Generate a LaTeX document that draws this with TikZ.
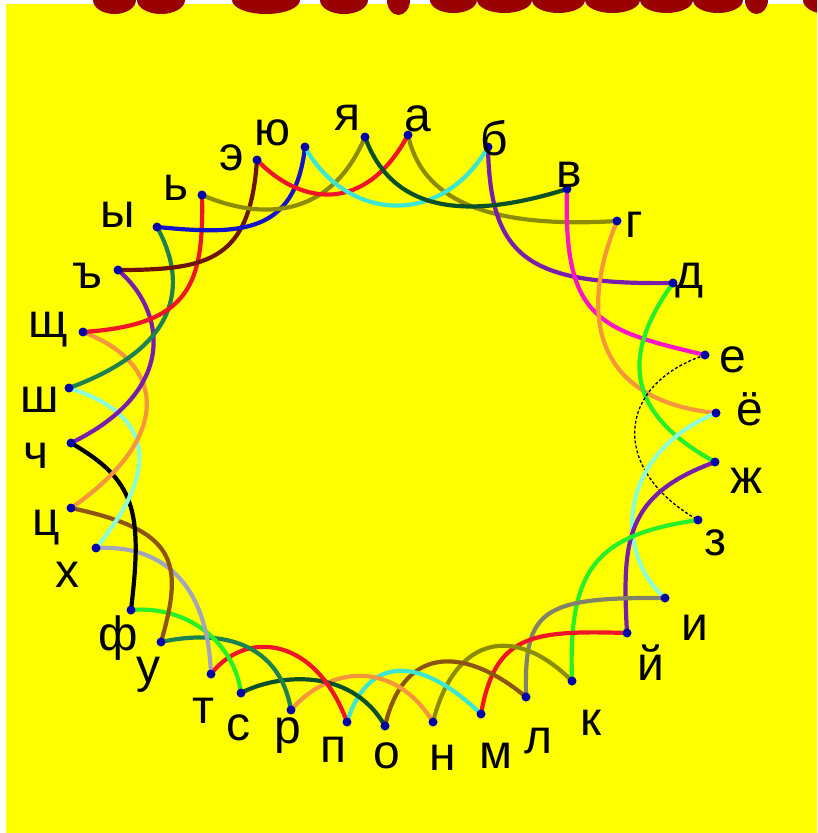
\documentclass[tikz,border=0pt]{standalone}
\usepackage{fontspec}
\setmainfont{Liberation Sans}
\definecolor{bgyellow}{RGB}{255,255,0}
\definecolor{titlered}{RGB}{153,0,0}
\definecolor{dotblue}{RGB}{0,0,170}
\definecolor{lolive}{RGB}{140,140,0}
\definecolor{lpurple}{RGB}{120,30,170}
\definecolor{lmagenta}{RGB}{255,20,200}
\definecolor{lorange}{RGB}{245,150,60}
\definecolor{lgreen}{RGB}{40,240,40}
\definecolor{laqua}{RGB}{140,255,215}
\definecolor{lgraybrown}{RGB}{130,130,105}
\definecolor{lgraylav}{RGB}{165,165,185}
\definecolor{lred}{RGB}{240,20,40}
\definecolor{lbrown}{RGB}{140,85,20}
\definecolor{lturq}{RGB}{60,230,210}
\definecolor{ldkgreen}{RGB}{10,80,40}
\definecolor{lseagreen}{RGB}{30,130,80}
\definecolor{lmaroon}{RGB}{110,20,10}
\definecolor{lblue}{RGB}{20,20,200}
\tikzset{
  arcline/.style={line width=4.2pt, line cap=round},
  thinline/.style={line width=1.3pt, densely dashed},
  letter/.style={inner sep=0pt, anchor=base, font=\fontsize{48}{48}\selectfont},
  spot/.style={fill=dotblue}
}
\begin{document}
\begin{tikzpicture}[x=1pt, y=-1pt]
    \clip (0,0) rectangle (817,833);
    \fill[white] (0,0) rectangle (817,833);
    \fill[bgyellow] (6,4) rectangle (817,833);
    % cut-off title
    \fill[titlered] (114.5,0) ellipse (21.5 and 14);
    \fill[titlered] (161,0) ellipse (24 and 14);
    \fill[titlered] (266,0) ellipse (34 and 14);
    \fill[titlered] (344,0) ellipse (24 and 14);
    \fill[titlered] (398.5,0) ellipse (11.5 and 15);
    \fill[titlered] (453.5,0) ellipse (23.5 and 13);
    \fill[titlered] (504.5,0) ellipse (27.5 and 13);
    \fill[titlered] (558.5,0) ellipse (26.5 and 13);
    \fill[titlered] (612.5,0) ellipse (27.5 and 13);
    \fill[titlered] (666.5,0) ellipse (26.5 and 13);
    \fill[titlered] (718,0) ellipse (25 and 13);
    \fill[titlered] (756.5,0) ellipse (11.5 and 14);
    \fill[titlered] (827,0) ellipse (24 and 14);
    % letter points
    \coordinate (a) at (408,135);
    \coordinate (b) at (488,147);
    \coordinate (v) at (567,189);
    \coordinate (g) at (617,221);
    \coordinate (d) at (673,283);
    \coordinate (e) at (705,355);
    \coordinate (yo) at (716,413);
    \coordinate (zh) at (715,462);
    \coordinate (z) at (698,520);
    \coordinate (i) at (665,598);
    \coordinate (ik) at (627,633);
    \coordinate (k) at (572,681);
    \coordinate (l) at (526,697);
    \coordinate (m) at (481,714);
    \coordinate (n) at (433,722);
    \coordinate (o) at (385,726);
    \coordinate (p) at (347,722);
    \coordinate (r) at (291,710);
    \coordinate (s) at (241,693);
    \coordinate (t) at (211,674);
    \coordinate (u) at (161,642);
    \coordinate (f) at (131,610);
    \coordinate (h) at (96,548);
    \coordinate (c) at (71,508);
    \coordinate (ch) at (71,443);
    \coordinate (sh) at (69,388);
    \coordinate (shch) at (83,332);
    \coordinate (hard) at (118,270);
    \coordinate (yery) at (157,227);
    \coordinate (soft) at (202,195);
    \coordinate (ee) at (257,160);
    \coordinate (yu) at (305,147);
    \coordinate (ya) at (365,137);
    % links
    \draw[arcline, lolive] (a) .. controls +(12,55) and +(-147,9) .. (g);
    \draw[arcline, lpurple] (b) .. controls +(2,113) and +(-143,2) .. (d);
    \draw[arcline, lmagenta] (v) .. controls +(-4,132) and +(-105,-25) .. (e);
    \draw[arcline, lorange] (g) .. controls +(-37,89) and +(-126,-13) .. (yo);
    \draw[arcline, lgreen] (d) .. controls +(-48,67) and +(-95,-52) .. (zh);
    \draw[thinline, black] (e) .. controls +(-90,30) and +(-88,-50) .. (z);
    \draw[arcline, laqua] (yo) .. controls +(-101,42) and +(-50,-43) .. (i);
    \draw[arcline, lpurple] (zh) .. controls +(-90,33) and +(-5,-93) .. (ik);
    \draw[arcline, lgreen] (z) .. controls +(-103,15) and +(-4,-112) .. (k);
    \draw[arcline, lgraybrown] (i) .. controls +(-125,-1) and +(-2,-87) .. (l);
    \draw[arcline, lred] (ik) .. controls +(-97,-3) and +(14,-79) .. (m);
    \draw[arcline, lolive] (k) .. controls +(-57,-57) and +(22,-87) .. (n);
    \draw[arcline, lbrown] (l) .. controls +(-56,-47) and +(20,-86) .. (o);
    \draw[arcline, lturq] (m) .. controls +(-56,-54) and +(23,-72) .. (p);
    \draw[arcline, lorange] (n) .. controls +(-38,-62) and +(39,-45) .. (r);
    \draw[arcline, ldkgreen] (o) .. controls +(-35,-61) and +(34,-18) .. (s);
    \draw[arcline, lred] (p) .. controls +(-32,-87) and +(34,-44) .. (t);
    \draw[arcline, lseagreen] (r) .. controls +(-11,-65) and +(64,-14) .. (u);
    \draw[arcline, lgreen] (s) .. controls +(-6,-48) and +(59,-5) .. (f);
    \draw[arcline, lgraylav] (t) .. controls +(-4,-104) and +(54,-3) .. (h);
    \draw[arcline, lbrown] (u) .. controls +(24,-82) and +(104,22) .. (c);
    \draw[arcline, black] (f) .. controls +(12,-100) and +(64,37) .. (ch);
    \draw[arcline, laqua] (h) .. controls +(64,-78) and +(86,27) .. (sh);
    \draw[arcline, lorange] (c) .. controls +(99,-68) and +(87,33) .. (shch);
    \draw[arcline, lpurple] (ch) .. controls +(109,-53) and +(47,40) .. (hard);
    \draw[arcline, lseagreen] (sh) .. controls +(131,-48) and +(21,38) .. (yery);
    \draw[arcline, lred] (shch) .. controls +(107,-7) and +(2,90) .. (soft);
    \draw[arcline, lmaroon] (hard) .. controls +(92,0) and +(-7,100) .. (ee);
    \draw[arcline, lblue] (yery) .. controls +(83,8) and +(-10,88) .. (yu);
    \draw[arcline, lolive] (soft) .. controls +(58,25) and +(-35,83) .. (ya);
    \draw[arcline, lred] (ee) .. controls +(43,45) and +(-43,80) .. (a);
    \draw[arcline, lturq] (yu) .. controls +(40,73) and +(-48,83) .. (b);
    \draw[arcline, ldkgreen] (ya) .. controls +(27,75) and +(-102,32) .. (v);
    % dots
    \fill[spot] (a) circle (4.5); \fill[spot] (b) circle (4.5);
    \fill[spot] (v) circle (4.5); \fill[spot] (g) circle (4.5);
    \fill[spot] (d) circle (4.5); \fill[spot] (e) circle (4.5);
    \fill[spot] (yo) circle (4.5); \fill[spot] (zh) circle (4.5);
    \fill[spot] (z) circle (4.5); \fill[spot] (i) circle (4.5);
    \fill[spot] (ik) circle (4.5); \fill[spot] (k) circle (4.5);
    \fill[spot] (l) circle (4.5); \fill[spot] (m) circle (4.5);
    \fill[spot] (n) circle (4.5); \fill[spot] (o) circle (4.5);
    \fill[spot] (p) circle (4.5); \fill[spot] (r) circle (4.5);
    \fill[spot] (s) circle (4.5); \fill[spot] (t) circle (4.5);
    \fill[spot] (u) circle (4.5); \fill[spot] (f) circle (4.5);
    \fill[spot] (h) circle (4.5); \fill[spot] (c) circle (4.5);
    \fill[spot] (ch) circle (4.5); \fill[spot] (sh) circle (4.5);
    \fill[spot] (shch) circle (4.5); \fill[spot] (hard) circle (4.5);
    \fill[spot] (yery) circle (4.5); \fill[spot] (soft) circle (4.5);
    \fill[spot] (ee) circle (4.5); \fill[spot] (yu) circle (4.5);
    \fill[spot] (ya) circle (4.5);
    % letters
    \node[letter] (la) at (418,131) {а};
    \node[letter] (lb) at (494,155) {б};
    \node[letter] (lv) at (569,187) {в};
    \node[letter] (lg) at (634,237) {г};
    \node[letter] (ld) at (689,288) {д};
    \node[letter] (le) at (733,372) {е};
    \node[letter] (lyo) at (750,425) {ё};
    \node[letter] (lzh) at (747,493) {ж};
    \node[letter] (lz) at (715,555) {з};
    \node[letter] (li) at (695,640) {и};
    \node[letter] (lik) at (651,680) {й};
    \node[letter] (lk) at (591,735) {к};
    \node[letter] (ll) at (538,753) {л};
    \node[letter] (lm) at (496,768) {м};
    \node[letter] (ln) at (443,770) {н};
    \node[letter] (lo) at (387,768) {о};
    \node[letter] (lp) at (333,762) {п};
    \node[letter] (lr) at (288,743) {р};
    \node[letter] (ls) at (238,740) {с};
    \node[letter] (lt) at (203,723) {т};
    \node[letter] (lu) at (148,682) {у};
    \node[letter] (lf) at (118,650) {ф};
    \node[letter] (lh) at (67,587) {х};
    \node[letter] (lc) at (46,535) {ц};
    \node[letter] (lch) at (36,468) {ч};
    \node[letter] (lsh) at (40,412) {ш};
    \node[letter] (lshch) at (48,337) {щ};
    \node[letter] (lhard) at (87,288) {ъ};
    \node[letter] (lyery) at (118,227) {ы};
    \node[letter] (lsoft) at (176,200) {ь};
    \node[letter] (lee) at (232,170) {э};
    \node[letter] (lyu) at (272,145) {ю};
    \node[letter] (lya) at (347,130) {я};
\end{tikzpicture}
\end{document}
